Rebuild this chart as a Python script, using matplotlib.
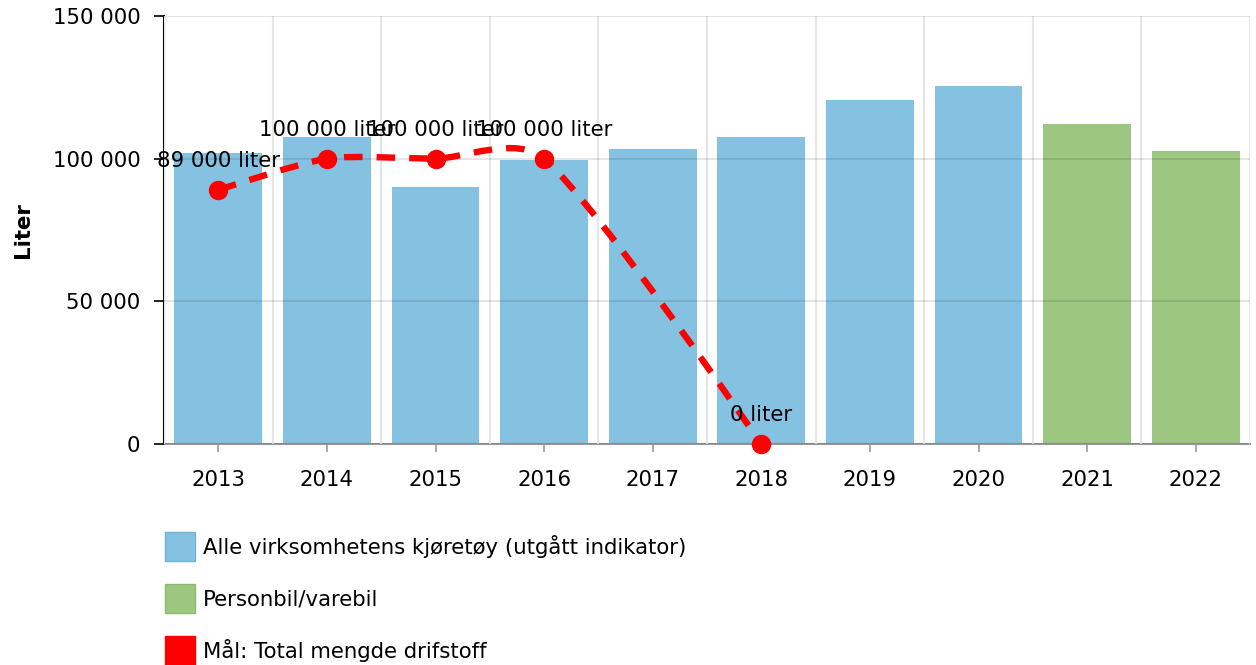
import matplotlib

matplotlib.use("Agg")
import matplotlib.pyplot as plt  # noqa: E402
import numpy as np  # noqa: E402
from matplotlib.patches import Patch, PathPatch  # noqa: E402
from matplotlib.path import Path  # noqa: E402
from matplotlib.ticker import FuncFormatter  # noqa: E402

years = ["2013", "2014", "2015", "2016", "2017", "2018", "2019", "2020", "2021", "2022"]
alle_kjoretoy = [102100, 107600, 90100, 99500, 103400, 107600, 120500, 125400, None, None]
personbil = [None, None, None, None, None, None, None, None, 112100, 102700]
maal = [89000, 100000, 100000, 100000, None, 0, None, None, None, None]
maal_labels = ["89 000 liter", "100 000 liter", "100 000 liter", "100 000 liter", None, "0 liter"]

BLUE = "#85c2e1"
GREEN = "#9dc680"
RED = "#ff0000"
FS = 15.3

plt.rcParams["font.family"] = ["DejaVu Sans"]


def spline_path(xs, ys, smoothing=3.0):
    """Spline through the points as cubic Bezier segments (nulls skipped)."""
    denom = smoothing + 1
    right = [(xs[0], ys[0])]
    left = [None]
    for i in range(1, len(xs)):
        x, y = xs[i], ys[i]
        if i < len(xs) - 1:
            lx, ly = xs[i - 1], ys[i - 1]
            nx, ny = xs[i + 1], ys[i + 1]
            lcx = (smoothing * x + lx) / denom
            lcy = (smoothing * y + ly) / denom
            rcx = (smoothing * x + nx) / denom
            rcy = (smoothing * y + ny) / denom
            corr = (rcy - lcy) * (rcx - x) / (rcx - lcx) + y - rcy
            left.append((lcx, lcy + corr))
            right.append((rcx, rcy + corr))
        else:
            left.append((x, y))
            right.append((x, y))
    verts = [(xs[0], ys[0])]
    codes = [Path.MOVETO]
    for i in range(1, len(xs)):
        verts += [right[i - 1], left[i], (xs[i], ys[i])]
        codes += [Path.CURVE4] * 3
    return Path(verts, codes)


fig = plt.figure(figsize=(12.56, 6.65), dpi=100)
ax = fig.add_axes([164 / 1256, 1 - 444 / 665, 1086 / 1256, 428 / 665])

x = np.arange(len(years))
blue_vals = np.array([np.nan if v is None else v for v in alle_kjoretoy], dtype=float)
green_vals = np.array([np.nan if v is None else v for v in personbil], dtype=float)
ax.bar(x, blue_vals, width=0.81, color=BLUE, zorder=1)
ax.bar(x, green_vals, width=0.81, color=GREEN, zorder=1)

# target line, gap at 2017 bridged
mx = [i for i, v in enumerate(maal) if v is not None]
my = [v for v in maal if v is not None]
ax.add_patch(PathPatch(spline_path(mx, my), fill=False, edgecolor=RED, lw=4.6,
                       linestyle=(0, (2.9, 2.2)), zorder=4, capstyle="butt"))
ax.plot(mx, my, "o", color=RED, markersize=13, zorder=5, clip_on=False)
for xi, yi, lab in zip(mx, my, [l for l in maal_labels if l is not None]):
    ax.annotate(lab, (xi, yi), xytext=(0, 21), textcoords="offset points",
                ha="center", va="center", fontsize=FS, color="black", zorder=6)

ax.set_xlim(-0.5, len(years) - 0.5)
ax.set_ylim(0, 150000)
ax.set_yticks([0, 50000, 100000, 150000])
ax.yaxis.set_major_formatter(FuncFormatter(lambda v, _: f"{int(v):,}".replace(",", " ")))
ax.set_xticks(x)
ax.set_xticklabels(years)
ax.set_xticks(np.arange(-0.5, len(years), 1), minor=True)

ax.set_axisbelow(False)
ax.grid(axis="y", color="black", alpha=0.1, lw=1.5, zorder=2)
ax.grid(axis="x", which="minor", color="#e6e6e6", lw=1.5)
ax.grid(axis="x", which="major", visible=False)

for s in ["top", "right"]:
    ax.spines[s].set_visible(False)
ax.spines["left"].set_color("black")
ax.spines["left"].set_linewidth(1.5)
ax.spines["bottom"].set_color("#999999")
ax.spines["bottom"].set_linewidth(1.5)

ax.tick_params(axis="y", length=7, width=1.2, color="black", labelsize=FS, pad=10)
ax.tick_params(axis="x", which="major", length=6, width=1.2, color="#999999",
               labelsize=FS, pad=13)
ax.tick_params(axis="x", which="minor", length=0)

ax.set_ylabel("Liter", fontsize=FS, fontweight="bold")
ax.yaxis.set_label_coords(-(164 - 33) / 1086, 0.5)

handles = [
    Patch(facecolor=BLUE, edgecolor="#6fb3d8", label="Alle virksomhetens kjøretøy (utgått indikator)"),
    Patch(facecolor=GREEN, edgecolor="#8bbb6c", label="Personbil/varebil"),
    Patch(facecolor=RED, edgecolor=RED, label="Mål: Total mengde drifstoff"),
]
fig.legend(handles=handles, loc="upper left", bbox_to_anchor=(165 / 1256, 1 - 532 / 665),
           frameon=False, fontsize=FS, handlelength=1.41, handleheight=1.74,
           labelspacing=1.08, handletextpad=0.38, borderpad=0, borderaxespad=0)

fig.savefig("out.png", dpi=100)
